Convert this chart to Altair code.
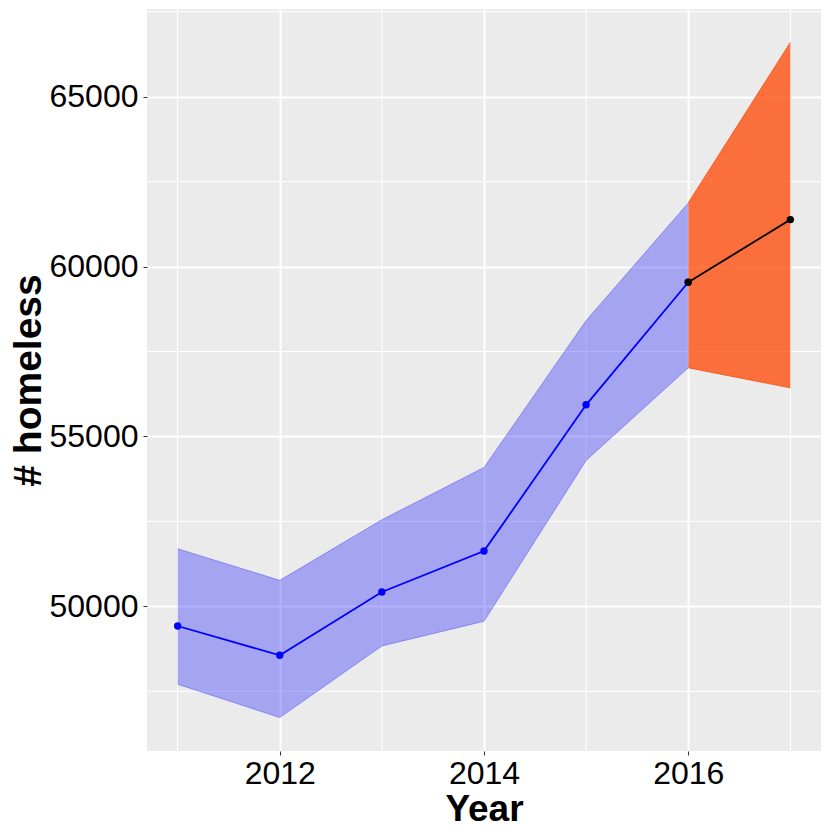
import altair as alt
import pandas as pd

# Observed series
years = [2011, 2012, 2013, 2014, 2015, 2016]
count = [49421, 48559, 50422, 51627, 55931, 59539]
lower = [47706, 46726, 48833, 49559, 54294, 57020]
upper = [51697, 50765, 52549, 54088, 58412, 61873]

# Forecast series
fc_years = [2016, 2017]
fc_count = [59539, 61382]
fc_lower = [57020, 56431]
fc_upper = [61873, 66598]

# Tick / grid values
x_major = [2012, 2014, 2016]
x_minor = [2011, 2013, 2015, 2017]
y_major = [50000, 55000, 60000, 65000]
y_minor = [47500, 52500, 57500, 62500, 67500]

obs = pd.DataFrame({"Year": years, "count": count, "lower": lower, "upper": upper})
fc = pd.DataFrame({"Year": fc_years, "count": fc_count, "lower": fc_lower, "upper": fc_upper})

xscale = alt.Scale(domain=[2010.7, 2017.3], nice=False, zero=False)
yscale = alt.Scale(domain=[45742, 67581], nice=False, zero=False)

xaxis = alt.Axis(values=x_major, format="d", title="Year", labelPadding=3, titlePadding=2)
yaxis = alt.Axis(values=y_major, format="d", title="# homeless", labelPadding=5, titlePadding=1,
                 titleFontSize=39)


def X(field):
    return alt.X(field, type="quantitative", scale=xscale, axis=xaxis)


def Y(field):
    return alt.Y(field, type="quantitative", scale=yscale, axis=yaxis)


minor_x = alt.Chart(pd.DataFrame({"v": x_minor})).mark_rule(color="white", strokeWidth=1).encode(x=X("v"))
minor_y = alt.Chart(pd.DataFrame({"v": y_minor})).mark_rule(color="white", strokeWidth=1).encode(y=Y("v"))

blue_area = alt.Chart(obs).mark_area(color="blue", opacity=0.3).encode(
    x=X("Year"), y=Y("lower"), y2="upper"
)
blue_up = alt.Chart(obs).mark_line(color="blue", opacity=0.3, strokeWidth=1).encode(x=X("Year"), y=Y("upper"))
blue_lo = alt.Chart(obs).mark_line(color="blue", opacity=0.3, strokeWidth=1).encode(x=X("Year"), y=Y("lower"))
blue_line = alt.Chart(obs).mark_line(color="blue", strokeWidth=1.8).encode(x=X("Year"), y=Y("count"))
blue_pts = alt.Chart(obs).mark_circle(color="blue", opacity=1, size=55).encode(x=X("Year"), y=Y("count"))

or_area = alt.Chart(fc).mark_area(color="orangered", opacity=0.75).encode(
    x=X("Year"), y=Y("lower"), y2="upper"
)
or_up = alt.Chart(fc).mark_line(color="orangered", opacity=0.75, strokeWidth=1).encode(x=X("Year"), y=Y("upper"))
or_lo = alt.Chart(fc).mark_line(color="orangered", opacity=0.75, strokeWidth=1).encode(x=X("Year"), y=Y("lower"))
bk_line = alt.Chart(fc).mark_line(color="black", strokeWidth=1.8).encode(x=X("Year"), y=Y("count"))
bk_pts = alt.Chart(fc).mark_circle(color="black", opacity=1, size=55).encode(x=X("Year"), y=Y("count"))

chart = alt.layer(
    minor_x, minor_y,
    blue_area, blue_up, blue_lo, blue_line, blue_pts,
    or_area, or_up, or_lo, bk_line, bk_pts,
).properties(
    width=674,
    height=742,
    autosize=alt.AutoSizeParams(type="none"),
    padding={"left": 139, "top": 1, "right": 1, "bottom": 78},
).configure_view(
    fill="#EBEBEB", strokeWidth=0
).configure_axis(
    grid=True,
    gridColor="white",
    gridWidth=2,
    domain=False,
    tickColor="#333333",
    tickWidth=1,
    tickSize=4,
    labelFont="Liberation Sans",
    labelFontSize=32,
    labelColor="black",
    titleFont="Liberation Sans",
    titleFontSize=37,
    titleFontWeight="bold",
    titleColor="black",
)

chart.save("out.html", embed_options={"renderer": "svg", "actions": False})
